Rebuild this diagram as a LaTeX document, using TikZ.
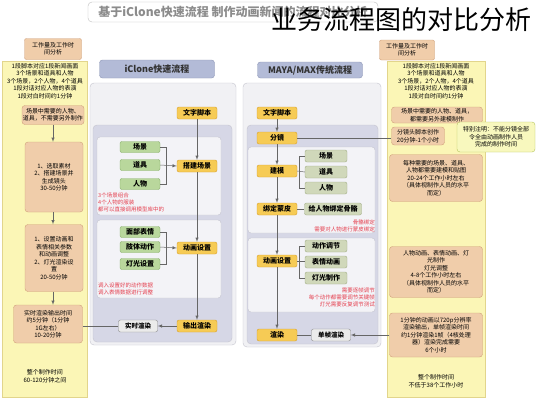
\documentclass[tikz,border=0pt]{standalone}
\usepackage{fontspec}
\setmainfont{Noto Sans CJK SC}
\usepackage{xcolor}
\usetikzlibrary{arrows,positioning}

\definecolor{colfill}{HTML}{FBF6B6}
\definecolor{coledge}{HTML}{E2D58C}
\definecolor{infofill}{HTML}{F0CDAA}
\definecolor{infoedge}{HTML}{CFA07A}
\definecolor{panfill}{HTML}{F1F1F4}
\definecolor{panedge}{HTML}{C4C4CE}
\definecolor{innfill}{HTML}{D6D7E6}
\definecolor{subfill}{HTML}{F3F3F7}
\definecolor{hdrfill}{HTML}{B3BBD7}
\definecolor{hdredge}{HTML}{8C95B6}
\definecolor{stepfill}{HTML}{F6CB55}
\definecolor{stepedge}{HTML}{D7A02E}
\definecolor{grnfill}{HTML}{B9D79C}
\definecolor{grnedge}{HTML}{88B06A}
\definecolor{sagefill}{HTML}{D0D8BA}
\definecolor{sageedge}{HTML}{A2AE88}
\definecolor{redtxt}{HTML}{E5404F}
\definecolor{notefill}{HTML}{F8F8BE}
\definecolor{noteedge}{HTML}{B5C45C}

\tikzset{
  tagbox/.style={draw=infoedge, fill=infofill, rounded corners=2pt, align=center,
    inner sep=1pt, font=\fontsize{6}{7}\selectfont},
  infobox/.style={draw=infoedge, fill=infofill, rounded corners=3pt, align=center,
    inner sep=1pt, font=\fontsize{6}{7.5}\selectfont},
  coltext/.style={align=center, inner sep=0pt, font=\fontsize{6}{7.5}\selectfont},
  hdr/.style={draw=hdredge, fill=hdrfill, rounded corners=3pt, inner sep=1pt,
    font=\fontsize{9}{10}\selectfont\bfseries, text=black!80},
  stepbox/.style={draw=stepedge, fill=stepfill, rounded corners=2pt, inner sep=0pt,
    minimum width=40pt, minimum height=12pt, font=\fontsize{7}{8}\selectfont\bfseries},
  grnbox/.style={draw=grnedge, fill=grnfill, rounded corners=2pt, inner sep=0pt,
    minimum width=40pt, minimum height=11pt, font=\fontsize{7}{8}\selectfont\bfseries},
  sagebox/.style={draw=sageedge, fill=sagefill, rounded corners=2pt, inner sep=0pt,
    minimum width=42pt, minimum height=12pt, font=\fontsize{7}{8}\selectfont\bfseries},
  rendbox/.style={draw=black!45, fill=white!92!black, rounded corners=2pt, inner sep=0pt,
    minimum width=39pt, minimum height=12pt, font=\fontsize{6.5}{7.5}\selectfont\bfseries},
  rednote/.style={text=redtxt, inner sep=0pt, font=\fontsize{5.5}{6.8}\selectfont},
  flow/.style={draw=black!60, line width=0.5pt},
}

\begin{document}
\begin{tikzpicture}[x=1pt,y=-1pt]
	\useasboundingbox[fill=white] (0,0) rectangle (536,400);
	% title
	\draw[draw=black!25, fill=white, rounded corners=4pt] (88,2) rectangle (378,22);
	\node[text=black!45, font=\fontsize{12}{13}\selectfont\bfseries] (title) at (233,12) {基于iClone快速流程 制作动画新闻的流程对比分析};
	% left column
	\draw[draw=coledge, fill=colfill] (2,61) rectangle (87,397);
	\node[tagbox, minimum width=57pt, minimum height=21pt] (ltag) at (53,49) {工作量及工作时\\间分析};
	\node[coltext] (ltxt) at (45,81) {1段脚本对应1段新闻画面\\3个场景和道具和人物\\3个场景，2个人物，4个道具\\1段对话对应人物的表演\\1段对白时间约1分钟};
	\node[infobox, minimum width=59pt, minimum height=19pt] (lb1) at (53,115) {场景中需要的人物、\\道具，不需要另外制作};
	\node[infobox, minimum width=58pt, minimum height=70pt] (lb2) at (54,177) {1、选取素材\\2、搭建场景并\\生成镜头\\30-50分钟};
	\node[infobox, minimum width=58pt, minimum height=67pt] (lb3) at (54,258) {1、设置动画和\\表情相关参数\\和动画调整\\2、灯光渲染设\\置\\20-50分钟};
	\node[infobox, minimum width=69pt, minimum height=38pt] (lb4) at (48,324) {实时渲染输出时间\\约5分钟（1分钟\\1G左右）\\10-20分钟};
	\node[coltext] (lend) at (45,376) {整个制作时间\\60-120分钟之间};
	\draw[flow,-latex] (lb1.south -| 53,0) -- (lb2.north -| 53,0);
	\draw[flow,-latex] (lb2.south -| 53,0) -- (lb3.north -| 53,0);
	\draw[flow,-latex] (lb3.south -| 53,0) -- (lb4.north -| 53,0);
	% right column
	\draw[draw=coledge, fill=colfill] (387,61) rectangle (485,397);
	\node[tagbox, minimum width=55pt, minimum height=20pt] (rtag) at (407,50) {工作量及工作时\\间分析};
	\node[coltext] (rtxt) at (436,81) {1段脚本对应1段新闻画面\\3个场景和道具和人物\\3个场景，2个人物，4个道具\\1段对话对应人物的表演\\1段对白时间约1分钟};
	\node[infobox, minimum width=91pt, minimum height=16pt] (rb1) at (437,115) {场景中需要的人物、道具，\\都需要另外建模制作};
	\node[infobox, minimum width=53pt, minimum height=18pt] (rb2) at (418,136) {分镜头脚本创作\\20分钟-1个小时};
	\node[infobox, minimum width=93pt, minimum height=47pt] (rb3) at (436,178) {每种需要的场景、道具、\\人物都需要建模和贴图\\20-24个工作小时左右\\（具体视制作人员的水平\\而定）};
	\node[infobox, minimum width=93pt, minimum height=51pt] (rb4) at (436,272) {人物动画、表情动画、灯\\光制作\\灯光调整\\4-8个工作小时左右\\（具体视制作人员的水平\\而定）};
	\node[infobox, minimum width=93pt, minimum height=44pt] (rb5) at (436,335) {1分钟的动画以720p分辨率\\渲染输出，单帧渲染时间\\约1分钟渲染1帧（4核处理\\器）渲染完成需要\\6个小时};
	\node[coltext] (rend) at (436,381) {整个制作时间\\不低于38个工作小时};
	\node[draw=noteedge, fill=notefill, rounded corners=3pt, minimum width=78pt, minimum height=30pt,
	  align=center, inner sep=1pt, font=\fontsize{6}{7.5}\selectfont] (rnote) at (496,137) {特别注明：不能分镜全部\\令全由动画制作人员\\完成的制作时间};
	% iClone panel
	\node[hdr, minimum width=115pt, minimum height=18pt] (h1) at (157,69) {iClone快速流程};
	\draw[draw=panedge, fill=panfill, rounded corners=4pt] (90,83) rectangle (236,345);
	\draw[draw=panedge, fill=innfill, rounded corners=4pt] (93,125) rectangle (232,342);
	\draw[draw=panedge, fill=subfill, rounded corners=3pt] (97,137) rectangle (221,215);
	\draw[draw=panedge, fill=subfill, rounded corners=3pt] (97,220) rectangle (221,298);
	\node[stepbox] (s1) at (197,113) {文字脚本};
	\node[grnbox] (g1) at (140,147) {场景};
	\node[grnbox] (g2) at (140,165) {道具};
	\node[grnbox] (g3) at (140,184) {人物};
	\node[stepbox] (b1) at (197,166) {搭建场景};
	\node[rednote, anchor=north west, align=left] (n1) at (98,193) {3个场景组合\\4个人物的服装\\都可以直接调用模型库中的};
	\node[grnbox] (g4) at (140,232) {面部表情};
	\node[grnbox] (g5) at (140,247) {肢体动作};
	\node[grnbox] (g6) at (140,264) {灯光设置};
	\node[stepbox] (a1) at (197,248) {动画设置};
	\node[rednote, anchor=north west, align=left] (n2) at (98,283) {调入设置好的动作数据\\调入表情数据进行调整};
	\node[stepbox] (o1) at (197,326) {输出渲染};
	\node[rendbox] (rt) at (138,326) {实时渲染};
	\draw[flow] (g1.east) -- ++(6,0) |- (g3.east);
	\draw[flow,-latex] (g2.east) -- (b1.west);
	\draw[flow] (g4.east) -- ++(6,0) |- (g6.east);
	\draw[flow,-latex] (g5.east) -- (a1.west);
	\draw[flow,-latex] (s1) -- (b1);
	\draw[flow,-latex] (b1) -- (a1);
	\draw[flow,-latex] (a1) -- (o1);
	\draw[flow,-latex] (o1) -- (rt);
	\draw[flow] (rt) -- (lb4.east |- rt);
	% MAYA panel
	\node[hdr, minimum width=105pt, minimum height=16pt] (h2) at (310,70) {MAYA/MAX传统流程};
	\draw[draw=panedge, fill=panfill, rounded corners=4pt] (243,83) rectangle (381,347);
	\draw[draw=panedge, fill=innfill, rounded corners=4pt] (247,125) rectangle (378,344);
	\draw[draw=panedge, fill=subfill, rounded corners=3pt] (248,147) rectangle (375,233);
	\draw[draw=panedge, fill=subfill, rounded corners=3pt] (248,238) rectangle (375,312);
	\node[stepbox] (m1) at (277,113) {文字脚本};
	\node[stepbox] (m2) at (277,138) {分镜};
	\node[stepbox] (m3) at (277,171) {建模};
	\node[stepbox] (m4) at (277,209) {绑定蒙皮};
	\node[stepbox] (m5) at (277,261) {动画设置};
	\node[stepbox] (m6) at (277,335) {渲染};
	\node[sagebox] (t1) at (326,156) {场景};
	\node[sagebox] (t2) at (326,172) {道具};
	\node[sagebox] (t3) at (326,188) {人物};
	\node[sagebox, minimum width=57pt] (t4) at (333,209) {给人物绑定骨骼};
	\node[rednote, anchor=north east, align=right] (n3) at (375,220) {骨骼绑定\\需要对人物进行蒙皮绑定};
	\node[sagebox] (t5) at (326,246) {动作调节};
	\node[sagebox] (t6) at (326,262) {表情动画};
	\node[sagebox] (t7) at (326,278) {灯光制作};
	\node[rednote, anchor=north east, align=right] (n4) at (375,288) {需要逐帧调节\\每个动作都需要调节关键帧\\灯光需要反复调节测试};
	\node[rendbox] (sr) at (331,335) {单帧渲染};
	\draw[flow] (t1.west) -- ++(-6,0) |- (t3.west);
	\draw[flow] (m3.east) -- (t2.west);
	\draw[flow] (m4.east) -- (t4.west);
	\draw[flow] (t5.west) -- ++(-6,0) |- (t7.west);
	\draw[flow] (m5.east) -- (t6.west |- m5) ;
	\draw[flow,-latex] (m1) -- (m2);
	\draw[flow,-latex] (m2) -- (m3);
	\draw[flow,-latex] (m3) -- (m4);
	\draw[flow,-latex] (m4) -- (m5);
	\draw[flow,-latex] (m5) -- (m6);
	\draw[flow] (m6) -- (sr);
	\draw[flow] (m2.east) -- (rb2.west |- m2);
	\draw[flow,-latex] (rb5.west |- sr) -- (sr);
	% overlay caption
	\node[anchor=west, inner sep=0pt, font=\fontsize{26}{28}\selectfont] (cap) at (271,20) {业务流程图的对比分析};
\end{tikzpicture}
\end{document}
